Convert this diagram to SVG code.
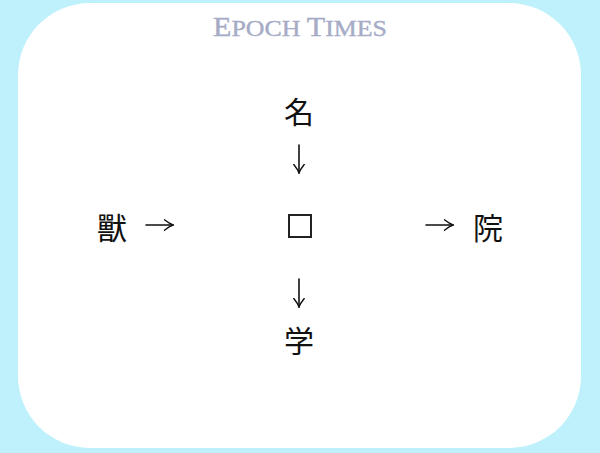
<svg xmlns="http://www.w3.org/2000/svg" width="600" height="453" viewBox="0 0 600 453">
<style>
.t{font-family:"Liberation Serif","Noto Sans CJK JP",serif;font-size:30px;fill:#111;text-anchor:middle;}
.c{fill:none;stroke:#111;stroke-width:1.6;stroke-linecap:round;stroke-linejoin:round;}
.logo{font-family:"Liberation Serif",serif;fill:#a6abc6;stroke:#a6abc6;stroke-width:0.4;}
</style>
<defs>
<marker id="ah" viewBox="0 0 10 12" refX="9.5" refY="6" markerWidth="10" markerHeight="12" markerUnits="userSpaceOnUse" orient="auto">
<path d="M1,0.8 Q6,4.8 9.5,6 Q6,7.2 1,11.2" fill="none" stroke="#111" stroke-width="1.4" stroke-linecap="round"/>
</marker>
</defs>
<rect x="0" y="0" width="600" height="453" fill="#bff1fc"/>
<rect x="18" y="3" width="563" height="445" rx="72" ry="72" fill="#ffffff"/>
<text class="logo" x="300" y="35.5" text-anchor="middle" textLength="174" lengthAdjust="spacingAndGlyphs"><tspan font-size="28">E</tspan><tspan font-size="24">POCH </tspan><tspan font-size="28">T</tspan><tspan font-size="24">IMES</tspan></text>
<g id="n-ming"><text class="t" x="299" y="123">名</text></g>
<g id="n-shou"><text class="t" x="112" y="239">獸</text></g>
<g id="n-center"><rect x="289" y="215" width="22" height="22" fill="none" stroke="#222" stroke-width="2"/></g>
<g id="n-yuan"><text class="t" x="488" y="239">院</text></g>
<g id="n-xue"><text class="t" x="299" y="352">学</text></g>
<g id="connectors">
<line class="c" x1="299" y1="145" x2="299" y2="173" marker-end="url(#ah)"/>
<line class="c" x1="146" y1="225" x2="173" y2="225" marker-end="url(#ah)"/>
<line class="c" x1="426" y1="225" x2="453" y2="225" marker-end="url(#ah)"/>
<line class="c" x1="299" y1="279" x2="299" y2="307" marker-end="url(#ah)"/>
</g>
</svg>
